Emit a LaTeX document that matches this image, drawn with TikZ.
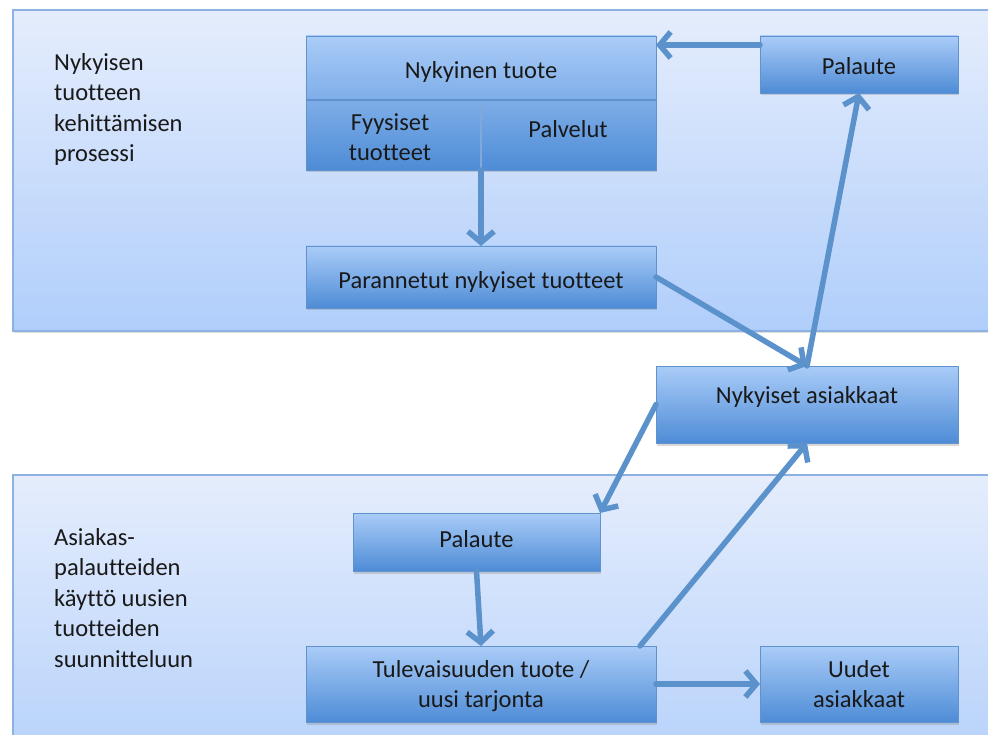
\documentclass[tikz,border=0pt]{standalone}
\usepackage{fontspec}
\setmainfont[Ligatures=CommonOff]{Carlito}
\usetikzlibrary{arrows.meta,shadows}
\definecolor{panelTop}{RGB}{229,237,252}
\definecolor{panelBot}{RGB}{176,206,251}
\definecolor{panelLine}{RGB}{140,178,228}
\definecolor{boxTop}{RGB}{170,204,248}
\definecolor{boxBot}{RGB}{78,140,214}
\definecolor{boxLine}{RGB}{96,146,206}
\definecolor{arrowC}{RGB}{92,146,204}
\definecolor{txt}{RGB}{25,25,25}
\tikzset{
  panel/.style={draw=panelLine, line width=1.2pt, top color=panelTop, bottom color=panelBot,
    drop shadow={opacity=0.25, shadow xshift=0.5pt, shadow yshift=-2pt}},
  box/.style={draw=boxLine, line width=0.8pt, top color=boxTop, bottom color=boxBot,
    inner sep=0pt, outer sep=0pt, text=txt, align=center,
    font=\fontsize{24.5}{29.5}\selectfont,
    drop shadow={opacity=0.3, shadow xshift=1pt, shadow yshift=-2.5pt}},
  lbl/.style={inner sep=0pt, text=txt, align=center, font=\fontsize{24.5}{29.5}\selectfont},
  side/.style={inner sep=0pt, anchor=north west, text=txt, align=left,
    font=\fontsize{24.5}{30.5}\selectfont},
  arr/.style={draw=arrowC, line width=5.5pt, line cap=round,
    -{Straight Barb[length=11pt,width=26pt,line width=5.5pt]}}
}
\begin{document}
\begin{tikzpicture}[x=1pt,y=-1pt]
\useasboundingbox (0,0) rectangle (988,735);
\fill[white] (0,0) rectangle (988,735);
\clip (0,0) rectangle (988,735);
% panels
\path[panel] (13,10) rectangle (1010,331);
\path[panel] (13,475) rectangle (1010,800);
% side labels
\node[side] (s1) at (54,53) {Nykyisen\\tuotteen\\kehittämisen\\prosessi};
\node[side] (s2) at (54,528) {Asiakas-\\palautteiden\\käyttö uusien\\tuotteiden\\suunnitteluun};
% nodes
\node[box, minimum width=350pt, minimum height=134pt] (nyk) at (481,103) {};
\draw[boxLine, line width=2.5pt] (nyk.west |- 0,100) -- (nyk.east |- 0,100);
\draw[boxLine!80!white, line width=1.5pt] (481,106) -- (481,170);
\node[lbl] (nykt) at (481,72) {Nykyinen tuote};
\node[lbl] (fyy) at (390,137) {Fyysiset\\tuotteet};
\node[lbl] (pal) at (568,129) {Palvelut};
\node[box, minimum width=198pt, minimum height=57pt,
  label={[lbl,yshift=-2pt]center:Palaute}] (palA) at (859,64.5) {};
\node[box, minimum width=350pt, minimum height=62pt,
  label={[lbl,yshift=-5pt]center:Parannetut nykyiset tuotteet}] (par) at (481,277) {};
\node[box, minimum width=302pt, minimum height=77pt,
  label={[lbl,yshift=8pt]center:Nykyiset asiakkaat}] (nyas) at (807,404.5) {};
\node[box, minimum width=247pt, minimum height=58pt,
  label={[lbl,yshift=3pt]center:Palaute}] (palB) at (476.5,542) {};
\node[box, minimum width=350pt, minimum height=76pt,
  label={[lbl,yshift=-2pt]center:Tulevaisuuden tuote /\\uusi tarjonta}] (tul) at (481,684) {};
\node[box, minimum width=198pt, minimum height=76pt] (uud) at (859,684) {Uudet\\asiakkaat};
% connectors
\draw[arr] (palA.west |- 0,45) -- (nyk.east |- 0,45);
\draw[arr] (nyk.south) -- (par.north);
\draw[arr] (par.east) -- (nyas.north);
\draw[arr] (nyas.north) -- (palA.south);
\draw[arr] (nyas.west) -- (palB.north east);
\draw[arr] (palB.south) -- (tul.north);
\draw[arr] ([xshift=-16pt]tul.north east) -- (nyas.south);
\draw[arr] (tul.east) -- (uud.west);
\end{tikzpicture}
\end{document}
